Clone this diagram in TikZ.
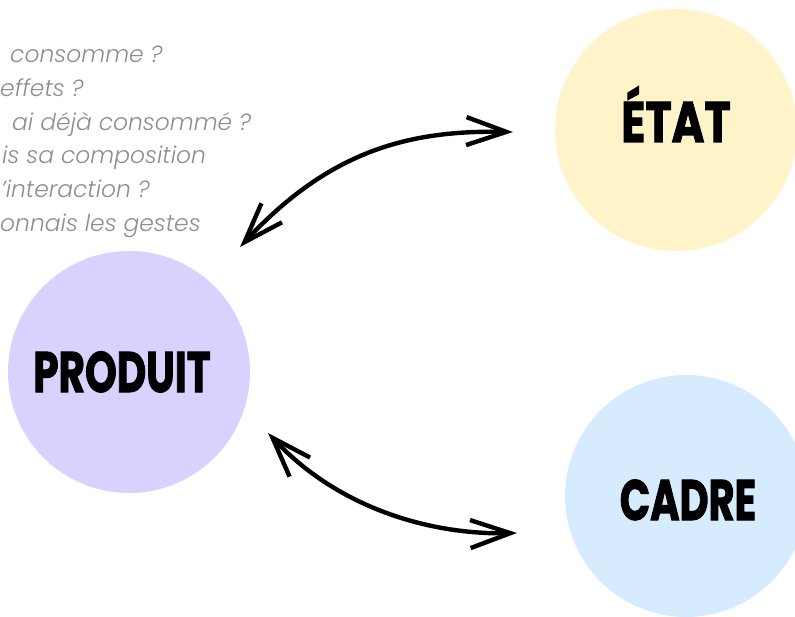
\documentclass[tikz,border=0pt]{standalone}
\usepackage{fontspec}
\usetikzlibrary{arrows.meta,calc}
\newfontfamily\qfont{Poppins Light Italic}
\newfontfamily\hfont{Poppins Bold}[FakeBold=2]
\definecolor{etatcol}{HTML}{FFF3C9}
\definecolor{produitcol}{HTML}{D9D1FE}
\definecolor{cadrecol}{HTML}{D6EBFE}
\definecolor{qgray}{HTML}{8E8E8E}
\begin{document}
\begin{tikzpicture}[x=1pt,y=-1pt,
  bubble/.style={circle, minimum size=242pt, inner sep=0pt, draw=none},
  word/.style={anchor=base, inner sep=0pt, font=\hfont\fontsize{57}{57}\selectfont},
  qline/.style={anchor=base west, inner sep=0pt, text=qgray, font=\qfont\fontsize{23.4}{23.4}\selectfont},
  link/.style={line width=4.4pt, {Straight Barb[length=40pt,width=28pt]}-{Straight Barb[length=40pt,width=28pt]}}
]
\useasboundingbox (0,0) rectangle (795,617);
% circles
\node[bubble, fill=produitcol] (produit) at (129,372) {};
\node[bubble, fill=etatcol] (etat) at (676,130) {};
\node[bubble, fill=cadrecol] (cadre) at (686,496) {};
% labels
\node[word] (produitlbl) at ([shift={(-7,20)}]produit.center) {\scalebox{0.71}[1]{PRODUIT}};
\node[word] (etatlbl) at ([shift={(0,12)}]etat.center) {\scalebox{0.78}[1]{ÉTAT}};
\node[word] (cadrelbl) at ([shift={(2,24)}]cadre.center) {\scalebox{0.7}[1]{CADRE}};
% question lines
\node[qline] (q1) at (10,63) {consomme ?};
\node[qline] (q2) at (0,97) {effets ?};
\node[qline] (q3) at (12,131) {ai déjà consommé ?};
\node[qline] (q4) at (2,164) {is sa composition};
\node[qline] (q5) at (1,198) {’interaction ?};
\node[qline] (q6) at (0,232) {onnais les gestes};
% arrow ends
\coordinate (a1) at ([shift={(111,-125)}]produit.center);
\coordinate (a2) at ([shift={(-163,2)}]etat.center);
\coordinate (b1) at ([shift={(139,61)}]produit.center);
\coordinate (b2) at ([shift={(-169,37)}]cadre.center);
\draw[link] (a1) .. controls (330,150) and (410,130) .. (a2);
\draw[link] (b1) .. controls (338,508) and (430,535) .. (b2);
\end{tikzpicture}
\end{document}
